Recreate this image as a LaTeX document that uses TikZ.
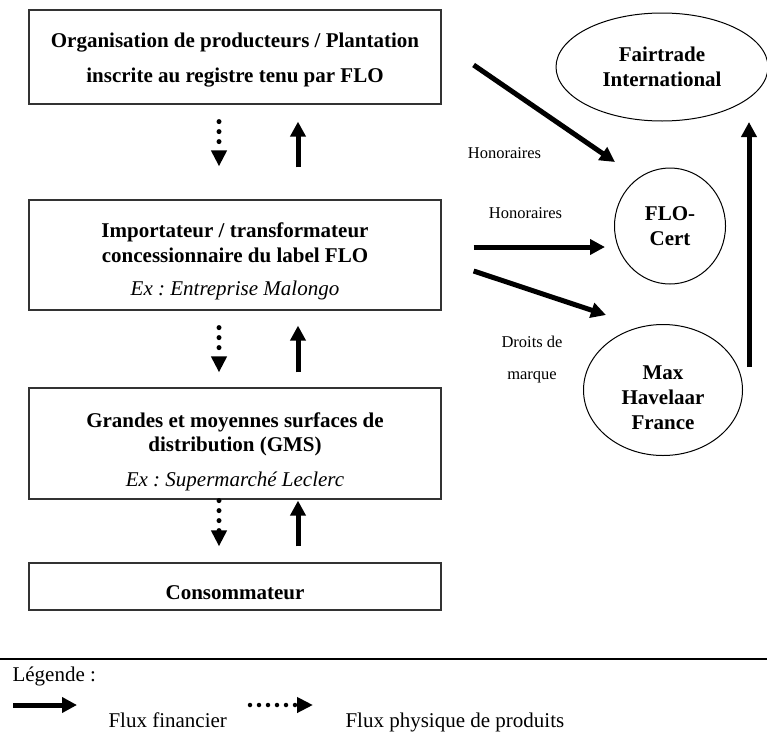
\documentclass[tikz,border=0pt]{standalone}
\usepackage{fontspec}
\setmainfont{Liberation Serif}
\usetikzlibrary{arrows.meta,shapes.geometric}

\tikzstyle{stage}=[draw=black!80,line width=1.2pt,minimum width=412pt,inner sep=0pt,align=center,font=\bfseries\fontsize{21}{25}\selectfont]
\tikzstyle{actor}=[draw,ellipse,line width=1pt,inner sep=0pt,align=center,font=\bfseries\fontsize{21}{25}\selectfont]
\tikzstyle{fin}=[draw,line width=5pt,-{Triangle[length=15pt,width=15pt]}]
\tikzstyle{phys}=[draw,line width=5pt,line cap=round,dash pattern=on 0pt off 10pt,-{Triangle[length=16pt,width=15pt]}]
\tikzstyle{flowlabel}=[font=\fontsize{16.5}{32}\selectfont,align=center]
\tikzstyle{legendtext}=[font=\fontsize{21}{25}\selectfont,anchor=base west]
\newcommand{\textlift}[1]{\rule{0pt}{#1}}

\begin{document}
\frenchspacing
\begin{tikzpicture}[x=1pt,y=-1pt]
    \useasboundingbox (0,0) rectangle (767,731);
    % First we draw the chain of stages
    \node[stage,minimum height=94pt] (org) at (235,57)
        {\textlift{20pt}Organisation de producteurs / Plantation\\[10pt]inscrite au registre tenu par FLO};
    \node[stage,minimum height=110pt] (imp) at (235,255)
        {\textlift{28pt}Importateur / transformateur\\concessionnaire du label FLO\\[8pt]\normalfont\itshape Ex : Entreprise Malongo};
    \node[stage,minimum height=111pt] (gms) at (235,443.5)
        {\textlift{31pt}Grandes et moyennes surfaces de\\[-1pt]distribution (GMS)\\[10pt]\normalfont\itshape Ex : Supermarché Leclerc};
    \node[stage,minimum height=47pt] (cons) at (235,586.5) {\textlift{27pt}Consommateur};
    % Then the labelling bodies
    \node[actor,minimum width=212pt,minimum height=108pt] (fair) at (662,67) {Fairtrade\\International};
    \node[actor,minimum width=111pt,minimum height=116pt] (flo) at (670,226) {FLO-\\Cert};
    \node[actor,minimum width=159pt,minimum height=131pt] (max) at (663,390) {\textlift{29pt}Max\\Havelaar\\France};
    % Flows along the chain
    \foreach \src/\dst/\a/\b/\c/\d in {org/imp/17/33/32/17, imp/gms/17/15/15/15, gms/cons/1/16/16/1}
    {
        \path[phys,shorten <=\a pt,shorten >=\b pt] ([xshift=-16pt]\src.south) -- ([xshift=-16pt]\dst.north);
        \path[fin,shorten <=\c pt,shorten >=\d pt] ([xshift=63pt]\dst.north) -- ([xshift=63pt]\src.south);
    }
    % Fees and royalties
    \path[fin] ([shift={(32,8)}]org.east) -- ([shift={(-55,-64)}]flo.center);
    \path[fin] ([shift={(32,-8)}]imp.east) -- ([shift={(-65,21)}]flo.center);
    \path[fin] ([shift={(32,16)}]imp.east) -- ([shift={(-57,-75)}]max.center);
    \path[fin] ([shift={(86,-23)}]max.center) -- ([shift={(87,55)}]fair.center);
    \node[flowlabel] (honA) at (504.5,153) {Honoraires};
    \node[flowlabel] (honB) at (525.5,213) {Honoraires};
    \node[flowlabel] (droits) at (532,360) {Droits de\\marque};
    % Legend
    \draw[line width=2pt] (0,659) -- (767,659);
    \node[legendtext] (leg) at (9,681) {Légende :};
    \coordinate (finA) at (13,705);
    \coordinate (finB) at (77,705);
    \coordinate (physA) at (250,705);
    \coordinate (physB) at (313,705);
    \path[fin] (finA) -- (finB);
    \path[phys,line width=4.5pt,dash pattern=on 0pt off 9pt] (physA) -- (physB);
    \node[legendtext] (finlbl) at (105,727) {Flux financier};
    \node[legendtext] (physlbl) at (342,727) {Flux physique de produits};
\end{tikzpicture}
\end{document}
